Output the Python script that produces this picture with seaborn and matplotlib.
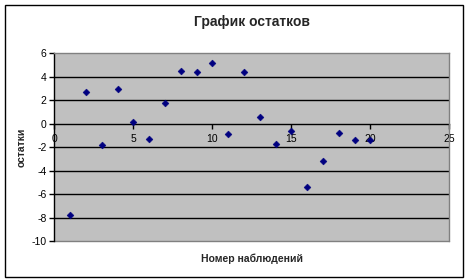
import matplotlib
matplotlib.use("Agg")
import matplotlib.pyplot as plt
import seaborn as sns
import pandas as pd
from matplotlib.patches import Rectangle

obs = list(range(1, 21))
residuals = [-7.82, 2.73, -1.82, 2.98, 0.17, -1.28, 1.76, 4.49, 4.43, 5.17,
             -0.91, 4.43, 0.60, -1.76, -0.63, -5.37, -3.21, -0.80, -1.40, -1.42]
x_ticks = [0, 5, 10, 15, 20, 25]
y_ticks = [-10, -8, -6, -4, -2, 0, 2, 4, 6]
title = "График остатков"
xlabel = "Номер наблюдений"
ylabel = "остатки"

df = pd.DataFrame({"obs": obs, "res": residuals})

sns.set_style("white")
plt.rcParams['font.family'] = ['Liberation Sans', 'DejaVu Sans']

fig = plt.figure(figsize=(4.68, 2.8), dpi=100)
W, H = 468, 280
ax = fig.add_axes([54.3 / W, 1 - 241 / H, (449.3 - 54.3) / W, (241 - 53.3) / H])
ax.set_facecolor("#C0C0C0")

for yv in y_ticks:
    if yv not in (-10, 0, 6):
        ax.axhline(yv, color="black", lw=1.0, zorder=1)

sns.scatterplot(data=df, x="obs", y="res", marker="D", color="#000080",
                s=12, edgecolor="#000080", linewidth=0.4, ax=ax, zorder=3)

ax.set_xlim(0, 25)
ax.set_ylim(-10, 6)
ax.set_xticks(x_ticks)
ax.set_yticks(y_ticks)
ax.set_xticklabels([str(t) for t in x_ticks])
ax.set_yticklabels([str(t) for t in y_ticks])

ax.spines['bottom'].set_position(('data', 0))
ax.spines['bottom'].set_color("black")
ax.spines['bottom'].set_linewidth(1.0)
ax.spines['bottom'].set_zorder(2)
ax.spines['left'].set_color("black")
ax.spines['left'].set_linewidth(1.0)
ax.spines['top'].set_color("#808080")
ax.spines['right'].set_color("#808080")
ax.spines['top'].set_linewidth(1.0)
ax.spines['right'].set_linewidth(1.0)

ax.plot([0, 25], [-10, -10], color="#808080", lw=1.0, clip_on=False, zorder=2)

ax.tick_params(axis='x', direction='out', length=3.5, width=1, pad=4,
               labelsize=7.5, colors='black', bottom=True)
ax.tick_params(axis='y', direction='out', length=3.5, width=1, pad=2,
               labelsize=7.5, colors='black', left=True)

ax.set_xlabel("")
ax.set_ylabel("")

fig.text(252 / W, 1 - 22 / H, title, ha="center", va="center",
         fontsize=10, fontweight="bold")
fig.text(252 / W, 1 - 259 / H, xlabel, ha="center", va="center",
         fontsize=7.5, fontweight="bold")
fig.text(22 / W, 1 - 147 / H, ylabel, ha="center", va="center",
         fontsize=7.5, fontweight="bold", rotation=90)

fig.patches.append(Rectangle((4.5 / W, 1 - 276.5 / H), (462.5 - 4.5) / W,
                             (276.5 - 5) / H, transform=fig.transFigure,
                             fill=False, edgecolor="black", lw=1.0))

fig.savefig("out.png", dpi=100)
